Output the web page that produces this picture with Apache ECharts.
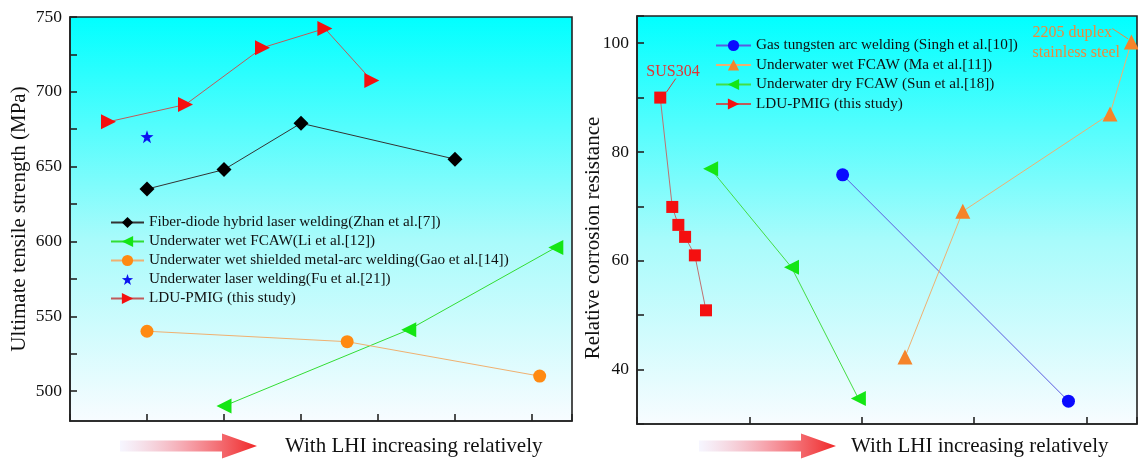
<!DOCTYPE html>
<html>
<head>
<meta charset="utf-8">
<script src="https://cdn.jsdelivr.net/npm/echarts@6/dist/echarts.min.js"></script>
<style>
html,body{margin:0;padding:0;background:#fff;}
#chart{width:1138px;height:459px;}
</style>
</head>
<body>
<div id="chart"></div>
<script>
// ---------- Left panel data (x = relative LHI position, y = UTS MPa) ----------
const leftNames = [
  'Fiber-diode hybrid laser welding(Zhan et al.[7])',
  'Underwater wet FCAW(Li et al.[12])',
  'Underwater wet shielded metal-arc welding(Gao et al.[14])',
  'Underwater laser welding(Fu et al.[21])',
  'LDU-PMIG (this study)'
];
const zhanData = [[1, 635], [2, 648], [3, 679], [5, 655]];
const liData = [[2, 490], [4.4, 541], [6.31, 596]];
const gaoData = [[1, 540], [3.6, 533], [6.1, 510]];
const fuData = [[1, 670]];
const ldu1Data = [[0.5, 680], [1.5, 691.5], [2.5, 729.5], [3.31, 742.3], [3.92, 707.5]];
const leftYLabels = [500, 550, 600, 650, 700, 750];
const leftYTicks = [500, 525, 550, 575, 600, 625, 650, 675, 700, 725, 750];

// ---------- Right panel data (x = relative LHI position, y = corrosion resistance) ----------
const rightNames = [
  'Gas tungsten arc welding (Singh et al.[10])',
  'Underwater wet FCAW (Ma et al.[11])',
  'Underwater dry FCAW (Sun et al.[18])',
  'LDU-PMIG (this study)'
];
const singhData = [[1.83, 75.8], [3.84, 34.2]];
const maData = [[2.385, 42.3], [2.9, 69.1], [4.21, 87.0], [4.4, 100.2]];
const sunData = [[0.655, 76.9], [1.375, 58.8], [1.97, 34.7]];
const ldu2Data = [[0.207, 90.0], [0.314, 69.9], [0.368, 66.6], [0.428, 64.4], [0.515, 61.0], [0.614, 50.9]];

// annotations (data coordinates)
const susText = 'SUS304';
const susTextPos = [0.32, 94.8];
const susArrow = [[0.345, 93.5], [0.262, 91.0]];
const duplexText = '2205 duplex\nstainless steel';
const duplexTextPos = [3.52, 100.1];
const duplexArrow = [[4.23, 102.7], [4.37, 100.8]];

const bottomText = 'With LHI increasing relatively';

const SERIF = '"Liberation Serif", "Times New Roman", serif';

const chart = echarts.init(document.getElementById('chart'), null, {renderer: 'canvas'});

const bgGrad = {
  type: 'linear', x: 0, y: 0, x2: 0, y2: 1,
  colorStops: [
    {offset: 0, color: '#00ffff'},
    {offset: 0.55, color: '#a8fbfb'},
    {offset: 1, color: '#f8fcff'}
  ]
};

function arrowGrad() {
  return {
    type: 'linear', x: 0, y: 0, x2: 1, y2: 0,
    colorStops: [
      {offset: 0, color: 'rgba(240,240,255,0.6)'},
      {offset: 0.5, color: 'rgba(245,150,160,0.9)'},
      {offset: 1, color: '#f02828'}
    ]
  };
}

function arrowShape(x0, xb, xt, yc) {
  return [[x0, yc - 5.5], [xb, yc - 5.5], [xb, yc - 12.5], [xt, yc], [xb, yc + 12.5], [xb, yc + 5.5], [x0, yc + 5.5]];
}

const axisLineStyle = {color: '#222', width: 1.6};

const option = {
  animation: false,
  backgroundColor: '#ffffff',
  textStyle: {fontFamily: SERIF},
  grid: [
    {left: 70, top: 17, width: 502, height: 404, show: true, backgroundColor: bgGrad, borderColor: '#222', borderWidth: 1.6},
    {left: 637, top: 16, width: 500, height: 408, show: true, backgroundColor: bgGrad, borderColor: '#222', borderWidth: 1.6}
  ],
  legend: [
    {
      orient: 'vertical', left: 105, top: 210, itemWidth: 33, itemHeight: 14, itemGap: 4,
      textStyle: {fontFamily: SERIF, fontSize: 15.2, color: '#111'},
      data: leftNames
    },
    {
      orient: 'vertical', left: 710, top: 33, itemWidth: 35, itemHeight: 14, itemGap: 4.5,
      textStyle: {fontFamily: SERIF, fontSize: 15.2, color: '#111'},
      data: rightNames
    }
  ],
  xAxis: [
    {
      type: 'value', gridIndex: 0, min: 0, max: 6.52, interval: 1,
      axisLine: {show: true, lineStyle: axisLineStyle},
      axisTick: {show: true, inside: true, length: 7, lineStyle: axisLineStyle},
      axisLabel: {show: false}, splitLine: {show: false}
    },
    {
      type: 'value', gridIndex: 1, min: 0, max: 4.45, interval: 1,
      axisLine: {show: true, lineStyle: axisLineStyle},
      axisTick: {show: true, inside: true, length: 7, lineStyle: axisLineStyle},
      axisLabel: {show: false}, splitLine: {show: false}
    }
  ],
  yAxis: [
    {
      type: 'value', gridIndex: 0, min: 480, max: 750,
      name: 'Ultimate tensile strength (MPa)', nameLocation: 'middle', nameGap: 40, nameMoveOverlap: false,
      nameTextStyle: {fontFamily: SERIF, fontSize: 21, color: '#111'},
      axisLine: {show: true, lineStyle: axisLineStyle},
      axisTick: {show: true, inside: true, length: 7, lineStyle: axisLineStyle, customValues: leftYTicks},
      axisLabel: {show: true, fontFamily: SERIF, fontSize: 17.5, color: '#111', margin: 8, customValues: leftYLabels},
      splitLine: {show: false}
    },
    {
      type: 'value', gridIndex: 1, min: 30, max: 105, interval: 10,
      name: 'Relative corrosion resistance', nameLocation: 'middle', nameGap: 33, nameMoveOverlap: false,
      nameTextStyle: {fontFamily: SERIF, fontSize: 21, color: '#111', padding: [0, 36, 0, 0]},
      axisLine: {show: true, lineStyle: axisLineStyle},
      axisTick: {show: true, inside: true, length: 7, lineStyle: axisLineStyle},
      axisLabel: {
        show: true, fontFamily: SERIF, fontSize: 17.5, color: '#111', margin: 8,
        formatter: function (v) { return (v % 20 === 0) ? String(v) : ''; }
      },
      splitLine: {show: false}
    }
  ],
  series: [
    {
      name: leftNames[0], type: 'line', xAxisIndex: 0, yAxisIndex: 0, data: zhanData,
      symbol: 'diamond', symbolSize: 15,
      itemStyle: {color: '#000'}, lineStyle: {color: '#333', width: 1}
    },
    {
      name: leftNames[1], type: 'line', xAxisIndex: 0, yAxisIndex: 0, data: liData,
      symbol: 'triangle', symbolSize: 15, symbolRotate: 90,
      itemStyle: {color: '#14e614'}, lineStyle: {color: '#33dd33', width: 1}
    },
    {
      name: leftNames[2], type: 'line', xAxisIndex: 0, yAxisIndex: 0, data: gaoData,
      symbol: 'circle', symbolSize: 13,
      itemStyle: {color: '#ff8a12'}, lineStyle: {color: '#f0b070', width: 1}
    },
    {
      name: leftNames[3], type: 'line', xAxisIndex: 0, yAxisIndex: 0, data: fuData,
      symbol: 'path://M0,-10 L2.35,-3.24 L9.51,-3.09 L3.8,1.24 L5.88,8.09 L0,4 L-5.88,8.09 L-3.8,1.24 L-9.51,-3.09 L-2.35,-3.24 Z',
      symbolSize: 13,
      itemStyle: {color: '#0a14f0'}, lineStyle: {width: 0, opacity: 0}
    },
    {
      name: leftNames[4], type: 'line', xAxisIndex: 0, yAxisIndex: 0, data: ldu1Data,
      symbol: 'triangle', symbolSize: 15, symbolRotate: -90,
      itemStyle: {color: '#f41010'}, lineStyle: {color: '#c05a5a', width: 1}
    },
    {
      name: rightNames[0], type: 'line', xAxisIndex: 1, yAxisIndex: 1, data: singhData,
      symbol: 'circle', symbolSize: 13,
      itemStyle: {color: '#0a0aff'}, lineStyle: {color: '#5a5ae0', width: 1}
    },
    {
      name: rightNames[1], type: 'line', xAxisIndex: 1, yAxisIndex: 1, data: maData,
      symbol: 'triangle', symbolSize: 15,
      itemStyle: {color: '#f5842a'}, lineStyle: {color: '#f0b070', width: 1},
      markPoint: {
        symbol: 'circle', symbolSize: 1, itemStyle: {color: 'rgba(0,0,0,0)'},
        label: {show: true, position: 'inside', formatter: duplexText, align: 'left',
          fontFamily: SERIF, fontSize: 16, lineHeight: 20, color: '#ee8a3c'},
        data: [{coord: duplexTextPos}]
      },
      markLine: {
        silent: true, symbol: ['none', 'arrow'], symbolSize: [0, 8],
        lineStyle: {color: '#f08a3c', width: 1, type: 'solid'}, label: {show: false},
        data: [[{coord: duplexArrow[0]}, {coord: duplexArrow[1]}]]
      }
    },
    {
      name: rightNames[2], type: 'line', xAxisIndex: 1, yAxisIndex: 1, data: sunData,
      symbol: 'triangle', symbolSize: 15, symbolRotate: 90,
      itemStyle: {color: '#14e614'}, lineStyle: {color: '#44dd44', width: 1}
    },
    {
      name: rightNames[3], type: 'line', xAxisIndex: 1, yAxisIndex: 1, data: ldu2Data,
      symbol: 'rect', symbolSize: 12,
      itemStyle: {color: '#f41010'}, lineStyle: {color: '#c07070', width: 1},
      markPoint: {
        symbol: 'circle', symbolSize: 1, itemStyle: {color: 'rgba(0,0,0,0)'},
        label: {show: true, position: 'inside', formatter: susText,
          fontFamily: SERIF, fontSize: 16, color: '#e03434'},
        data: [{coord: susTextPos}]
      },
      markLine: {
        silent: true, symbol: ['none', 'arrow'], symbolSize: [0, 8],
        lineStyle: {color: '#e03434', width: 1, type: 'solid'}, label: {show: false},
        data: [[{coord: susArrow[0]}, {coord: susArrow[1]}]]
      }
    }
  ],
  graphic: [
    {type: 'polygon', shape: {points: arrowShape(120, 222, 257, 446)}, style: {fill: arrowGrad()}},
    {type: 'text', left: 285, top: 436, style: {text: bottomText, font: '21px ' + SERIF, fill: '#111'}},
    {type: 'polygon', shape: {points: arrowShape(699, 801, 836, 446)}, style: {fill: arrowGrad()}},
    {type: 'text', left: 851, top: 436, style: {text: bottomText, font: '21px ' + SERIF, fill: '#111'}}
  ]
};

chart.setOption(option);
</script>
</body>
</html>
